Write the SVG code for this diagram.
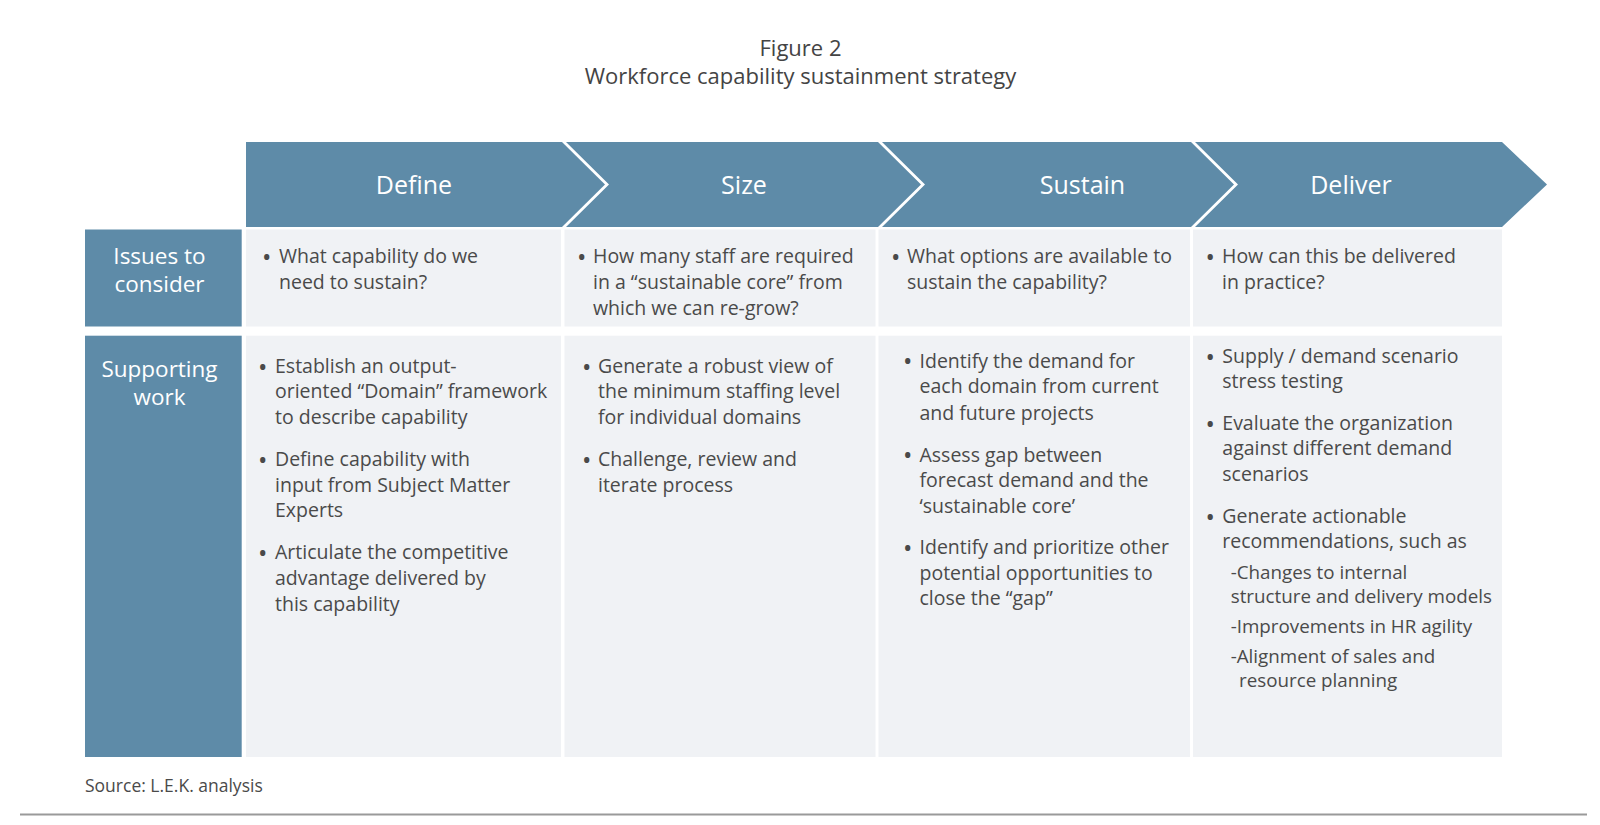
<svg xmlns="http://www.w3.org/2000/svg" width="1600" height="825" viewBox="0 0 1600 825">
<style>
.bg{fill:#ffffff}
.blue{fill:#5e8ba8}
.cell{fill:#f0f2f5}
.title{font-family:"Open Sans","Noto Sans",sans-serif;font-size:22px;fill:#444444;text-anchor:middle}
.hdr{font-family:"Open Sans","Noto Sans",sans-serif;font-size:25px;fill:#ffffff;text-anchor:middle}
.lab{font-family:"Open Sans","Noto Sans",sans-serif;font-size:22.5px;fill:#ffffff;text-anchor:middle}
.t{font-family:"Open Sans","Noto Sans",sans-serif;font-size:19.5px;fill:#4a4a4a}
.s{font-family:"Open Sans","Noto Sans",sans-serif;font-size:18.8px;fill:#4a4a4a}
.b{font-family:"Open Sans","Noto Sans",sans-serif;font-size:25px;fill:#4a4a4a}
.src{font-family:"Open Sans","Noto Sans",sans-serif;font-size:17.5px;fill:#4a4a4a}
.rule{stroke:#9a9a9a;stroke-width:2}
</style>
<rect class="bg" x="0" y="0" width="1600" height="825"/>
<g id="title">
<text class="title" x="800.5" y="56">Figure 2</text>
<text class="title" x="800.5" y="84">Workforce capability sustainment strategy</text>
</g>
<g id="connectors"></g>
<g id="define-header">
<polygon class="blue" points="246,142 562,142 605,184.5 562,227 246,227"/>
<text class="hdr" x="414" y="194">Define</text>
</g>
<g id="size-header">
<polygon class="blue" points="566,142 878,142 921,184.5 878,227 566,227 609,184.5"/>
<text class="hdr" x="744" y="194">Size</text>
</g>
<g id="sustain-header">
<polygon class="blue" points="882,142 1191,142 1234,184.5 1191,227 882,227 925,184.5"/>
<text class="hdr" x="1082.5" y="194">Sustain</text>
</g>
<g id="deliver-header">
<polygon class="blue" points="1195,142 1502,142 1547,184.5 1502,227 1195,227 1238,184.5"/>
<text class="hdr" x="1351" y="194">Deliver</text>
</g>
<g id="issues-label">
<rect class="blue" x="85" y="229.5" width="156.7" height="97"/>
<text class="lab" x="159.5" y="264">Issues to</text>
<text class="lab" x="159.5" y="292">consider</text>
</g>
<g id="supporting-label">
<rect class="blue" x="85" y="335.7" width="156.7" height="421.3"/>
<text class="lab" x="159.5" y="376.7">Supporting</text>
<text class="lab" x="159.5" y="405">work</text>
</g>
<g id="define-issues">
<rect class="cell" x="246" y="229.5" width="315" height="97"/>
<text class="b" x="262" y="265.5">•</text>
<text class="t" x="279" y="262.7">What capability do we</text>
<text class="t" x="279" y="289">need to sustain?</text>
</g>
<g id="size-issues">
<rect class="cell" x="564.5" y="229.5" width="311" height="97"/>
<text class="b" x="577" y="265.5">•</text>
<text class="t" x="593" y="262.7">How many staff are required</text>
<text class="t" x="593" y="289">in a “sustainable core” from</text>
<text class="t" x="593" y="315">which we can re-grow?</text>
</g>
<g id="sustain-issues">
<rect class="cell" x="878.5" y="229.5" width="311.5" height="97"/>
<text class="b" x="891" y="265.5">•</text>
<text class="t" x="907" y="262.7">What options are available to</text>
<text class="t" x="907" y="289">sustain the capability?</text>
</g>
<g id="deliver-issues">
<rect class="cell" x="1193" y="229.5" width="309" height="97"/>
<text class="b" x="1205.5" y="265.5">•</text>
<text class="t" x="1222" y="262.7">How can this be delivered</text>
<text class="t" x="1222" y="289">in practice?</text>
</g>
<g id="define-work">
<rect class="cell" x="246" y="335.7" width="315" height="421.3"/>
<text class="b" x="258" y="375.5">•</text>
<text class="t" x="275" y="372.7">Establish an output-</text>
<text class="t" x="275" y="398.3">oriented “Domain” framework</text>
<text class="t" x="275" y="424.3">to describe capability</text>
<text class="b" x="258" y="468.8">•</text>
<text class="t" x="275" y="466">Define capability with</text>
<text class="t" x="275" y="491.7">input from Subject Matter</text>
<text class="t" x="275" y="517.3">Experts</text>
<text class="b" x="258" y="562.1">•</text>
<text class="t" x="275" y="559.3">Articulate the competitive</text>
<text class="t" x="275" y="585">advantage delivered by</text>
<text class="t" x="275" y="610.5">this capability</text>
</g>
<g id="size-work">
<rect class="cell" x="564.5" y="335.7" width="311" height="421.3"/>
<text class="b" x="582" y="375.5">•</text>
<text class="t" x="598" y="372.7">Generate a robust view of</text>
<text class="t" x="598" y="398.3">the minimum staffing level</text>
<text class="t" x="598" y="424.3">for individual domains</text>
<text class="b" x="582" y="468.8">•</text>
<text class="t" x="598" y="466">Challenge, review and</text>
<text class="t" x="598" y="491.7">iterate process</text>
</g>
<g id="sustain-work">
<rect class="cell" x="878.5" y="335.7" width="311.5" height="421.3"/>
<text class="b" x="903" y="370.4">•</text>
<text class="t" x="919.5" y="367.6">Identify the demand for</text>
<text class="t" x="919.5" y="393.1">each domain from current</text>
<text class="t" x="919.5" y="419.6">and future projects</text>
<text class="b" x="903" y="464.3">•</text>
<text class="t" x="919.5" y="461.5">Assess gap between</text>
<text class="t" x="919.5" y="487">forecast demand and the</text>
<text class="t" x="919.5" y="512.5">‘sustainable core’</text>
<text class="b" x="903" y="557.1">•</text>
<text class="t" x="919.5" y="554.3">Identify and prioritize other</text>
<text class="t" x="919.5" y="579.9">potential opportunities to</text>
<text class="t" x="919.5" y="605.4">close the “gap”</text>
</g>
<g id="deliver-work">
<rect class="cell" x="1193" y="335.7" width="309" height="421.3"/>
<text class="b" x="1205.5" y="366.1">•</text>
<text class="t" x="1222.3" y="363.3">Supply / demand scenario</text>
<text class="t" x="1222.3" y="388.3">stress testing</text>
<text class="b" x="1205.5" y="432.8">•</text>
<text class="t" x="1222.3" y="430">Evaluate the organization</text>
<text class="t" x="1222.3" y="455">against different demand</text>
<text class="t" x="1222.3" y="480.7">scenarios</text>
<text class="b" x="1205.5" y="525.5">•</text>
<text class="t" x="1222.3" y="522.7">Generate actionable</text>
<text class="t" x="1222.3" y="548.3">recommendations, such as</text>
<text class="s" x="1230.7" y="579">-Changes to internal</text>
<text class="s" x="1230.7" y="603.3">structure and delivery models</text>
<text class="s" x="1230.7" y="633.3">-Improvements in HR agility</text>
<text class="s" x="1230.7" y="662.5">-Alignment of sales and</text>
<text class="s" x="1239" y="687">resource planning</text>
</g>
<g id="source">
<text class="src" x="85" y="792">Source: L.E.K. analysis</text>
<line class="rule" x1="20" y1="814.5" x2="1587" y2="814.5"/>
</g>
</svg>
